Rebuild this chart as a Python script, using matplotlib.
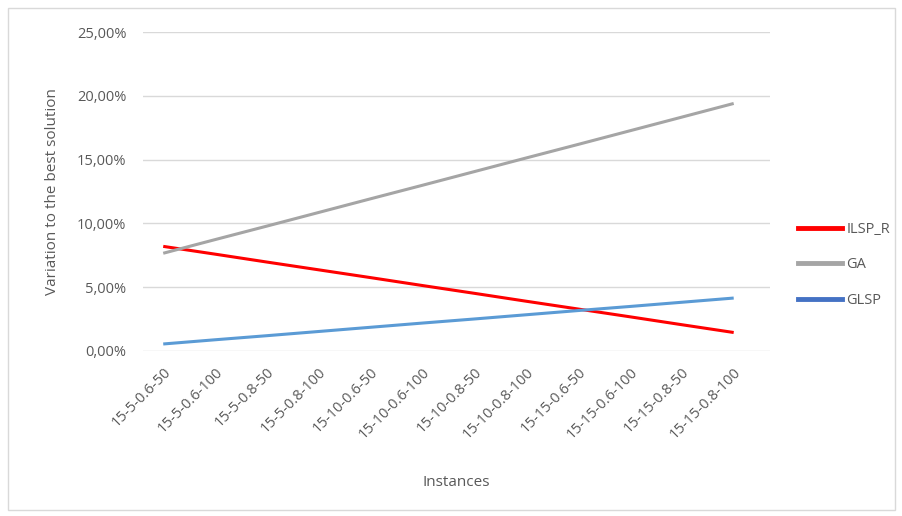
import matplotlib
matplotlib.use("Agg")
import matplotlib.pyplot as plt
from matplotlib.lines import Line2D
from matplotlib.patches import Rectangle
from matplotlib.ticker import FuncFormatter

# data (percent)
instances = ["15-5-0.6-50", "15-5-0.6-100", "15-5-0.8-50", "15-5-0.8-100",
             "15-10-0.6-50", "15-10-0.6-100", "15-10-0.8-50", "15-10-0.8-100",
             "15-15-0.6-50", "15-15-0.6-100", "15-15-0.8-50", "15-15-0.8-100"]
ilsp_r = [8.20, 7.59, 6.97, 6.36, 5.75, 5.13, 4.52, 3.90, 3.29, 2.68, 2.06, 1.45]
ga = [7.66, 8.73, 9.79, 10.86, 11.93, 12.99, 14.06, 15.13, 16.19, 17.26, 18.33, 19.40]
glsp = [0.55, 0.88, 1.20, 1.53, 1.86, 2.19, 2.51, 2.84, 3.17, 3.49, 3.82, 4.15]

plt.rcParams['font.family'] = ['Open Sans', 'DejaVu Sans']
txt = '#595959'

fig = plt.figure(figsize=(9.03, 5.16), dpi=100)
W, H = 903, 516
ax = fig.add_axes([143 / W, 1 - 351 / H, (770 - 143) / W, (351 - 32) / H])

# chart border
fig.patches.append(Rectangle((8 / W, 6 / H), 887 / W, 502 / H, transform=fig.transFigure,
                             fill=False, edgecolor='#D9D9D9', lw=1))

x = list(range(len(instances)))
ax.plot(x, ilsp_r, color='#FF0000', lw=2.2, solid_capstyle='butt')
ax.plot(x, ga, color='#A5A5A5', lw=2.2, solid_capstyle='butt')
ax.plot(x, glsp, color='#5B9BD5', lw=2.2, solid_capstyle='butt')

ax.set_xlim(-0.39, 11.7)
ax.set_ylim(0, 25)
ax.set_yticks([0, 5, 10, 15, 20, 25])
ax.yaxis.set_major_formatter(FuncFormatter(lambda v, p: f"{v:.2f}%".replace('.', ',')))
ax.grid(axis='y', color='#D9D9D9', lw=1)
ax.set_axisbelow(True)
for s in ax.spines.values():
    s.set_visible(False)
ax.tick_params(length=0, colors=txt, labelsize=10.5)
ax.tick_params(axis='y', pad=12)
ax.set_xticks(x)
ax.set_xticklabels(instances, rotation=45, ha='right', rotation_mode='anchor')
ax.tick_params(axis='x', pad=10, labelsize=10.5)

ax.set_ylabel("Variation to the best solution", color=txt, fontsize=11, labelpad=12)
ax.set_xlabel("Instances", color=txt, fontsize=11, labelpad=24)

handles = [Line2D([], [], color='#FF0000', lw=3.5),
           Line2D([], [], color='#A5A5A5', lw=3.5),
           Line2D([], [], color='#4472C4', lw=3.5)]
fig.legend(handles, ["ILSP_R", "GA", "GLSP"], loc='center left',
           bbox_to_anchor=(785 / W, 1 - 265 / H), frameon=False,
           labelcolor=txt, fontsize=10.5, handlelength=3.0, handletextpad=0.3,
           labelspacing=1.4)

fig.savefig("out.png", dpi=100)
